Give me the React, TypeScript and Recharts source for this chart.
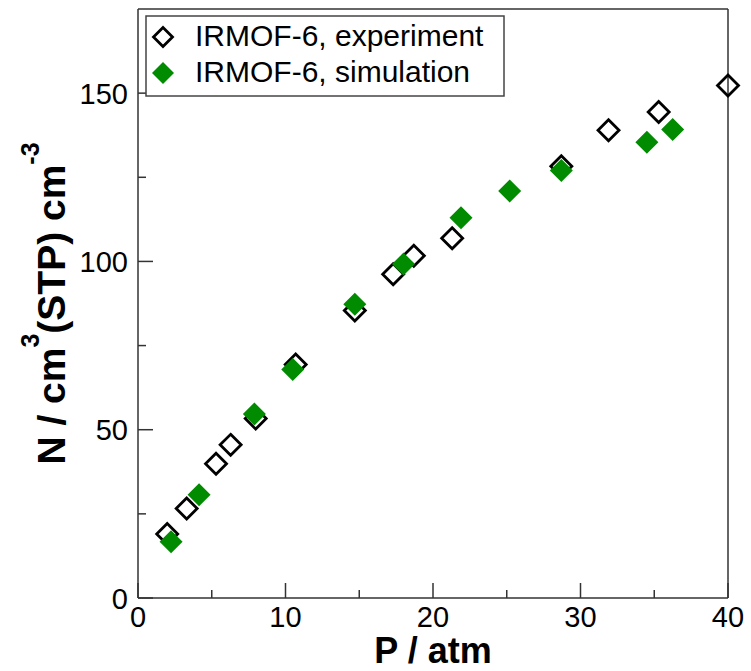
import React from 'react';
import { ScatterChart, Scatter, XAxis, YAxis, Legend } from 'recharts';

// ---- data ----
const expP = [1.98, 3.3, 5.29, 6.28, 7.98, 10.69, 14.7, 17.3, 18.7, 21.3, 28.7, 31.9, 35.3, 40.0];
const expN = [19.0, 26.6, 39.9, 45.5, 53.3, 69.4, 85.4, 96.2, 101.7, 106.9, 128.3, 139.0, 144.4, 152.3];
const simP = [2.24, 4.14, 7.89, 10.49, 14.7, 18.0, 21.9, 25.2, 28.7, 34.5, 36.25];
const simN = [16.7, 30.7, 54.7, 67.9, 87.3, 99.2, 113.0, 120.9, 127.0, 135.4, 139.2];

const xTicks = [0, 5, 10, 15, 20, 25, 30, 35, 40];
const yTicks = [0, 25, 50, 75, 100, 125, 150];
const xDomain = [0, 40];
const yDomain = [0, 175];
const seriesNames = ['IRMOF-6, experiment', 'IRMOF-6, simulation'];

const expData = expP.map((p, i) => ({ x: p, y: expN[i] }));
const simData = simP.map((p, i) => ({ x: p, y: simN[i] }));

// ---- styles ----
const FONT = '"Liberation Sans", Arial, Helvetica, sans-serif';
const AXIS_COLOR = '#333';
const GREEN = '#008b00';
const MAJOR = 15;
const MINOR = 8;
const TICK_FONT = 29;

const isMajorX = (v: number) => v % 10 === 0;
const isMajorY = (v: number) => v % 50 === 0;

const diamondPath = (cx: number, cy: number, r: number) =>
  `M${cx},${cy - r}L${cx + r},${cy}L${cx},${cy + r}L${cx - r},${cy}Z`;

const OpenDiamond = (props: any) => {
  const { cx, cy } = props;
  if (cx == null || cy == null) return null;
  return <path d={diamondPath(cx, cy, 10.5)} fill="none" stroke="#000" strokeWidth={2.8} strokeLinejoin="miter" />;
};
const FilledDiamond = (props: any) => {
  const { cx, cy } = props;
  if (cx == null || cy == null) return null;
  return <path d={diamondPath(cx, cy, 11.5)} fill={GREEN} stroke="none" />;
};

const BottomTick = (props: any) => {
  const { x, y, payload } = props;
  const major = isMajorX(payload.value);
  return (
    <g>
      <line x1={x} x2={x} y1={y} y2={y - (major ? MAJOR : MINOR)} stroke={AXIS_COLOR} strokeWidth={1.5} />
      {major && (
        <text x={x} y={y + 29} textAnchor="middle" fontSize={TICK_FONT} fontFamily={FONT} fill="#000">
          {payload.value}
        </text>
      )}
    </g>
  );
};
const TopTick = (props: any) => {
  const { x, y, payload } = props;
  const major = isMajorX(payload.value);
  return <line x1={x} x2={x} y1={y} y2={y + (major ? MAJOR : MINOR)} stroke={AXIS_COLOR} strokeWidth={1.5} />;
};
const LeftTick = (props: any) => {
  const { x, y, payload } = props;
  const major = isMajorY(payload.value);
  return (
    <g>
      <line x1={x} x2={x + (major ? MAJOR : MINOR)} y1={y} y2={y} stroke={AXIS_COLOR} strokeWidth={1.5} />
      {major && (
        <text x={x - 10} y={y + 10.5} textAnchor="end" fontSize={TICK_FONT} fontFamily={FONT} fill="#000">
          {payload.value}
        </text>
      )}
    </g>
  );
};
const RightTick = (props: any) => {
  const { x, y, payload } = props;
  const major = isMajorY(payload.value);
  return <line x1={x} x2={x - (major ? MAJOR : MINOR)} y1={y} y2={y} stroke={AXIS_COLOR} strokeWidth={1.5} />;
};

const XLabel = (props: any) => {
  const vb = props.viewBox || {};
  const cx = (vb.x ?? 138) + (vb.width ?? 590) / 2;
  const y = (vb.y ?? 598) + 65;
  return (
    <text x={cx} y={y} textAnchor="middle" fontFamily={FONT} fontWeight="bold" fontSize={36} fill="#000">
      P / atm
    </text>
  );
};

const YLabel = (props: any) => {
  const vb = props.viewBox || {};
  const cy = (vb.y ?? 9) + (vb.height ?? 589) / 2;
  const cx = 65;
  return (
    <text
      transform={`translate(${cx},${cy}) rotate(-90)`}
      textAnchor="middle"
      fontFamily={FONT}
      fontWeight="bold"
      fontSize={39}
      fill="#000"
    >
      N / cm
      <tspan fontSize={25} dy={-26}>3</tspan>
      <tspan dy={26}>(STP) cm</tspan>
      <tspan fontSize={25} dy={-26}>-3</tspan>
    </text>
  );
};

const LegendBox = () => (
  <svg width={362} height={84} style={{ display: 'block', overflow: 'visible' }}>
    <rect x={1} y={1} width={358} height={80} fill="#fff" stroke="#444" strokeWidth={1.5} />
    <path d={diamondPath(18, 22, 9.5)} fill="none" stroke="#000" strokeWidth={2.8} />
    <text x={50} y={30.7} fontFamily={FONT} fontSize={30} fill="#000">{seriesNames[0]}</text>
    <path d={diamondPath(18, 58, 11)} fill={GREEN} />
    <text x={50} y={66.7} fontFamily={FONT} fontSize={30} fill="#000">{seriesNames[1]}</text>
  </svg>
);

export default function App() {
  return (
    <div style={{ position: 'absolute', left: 0, top: 0, background: '#fff' }}>
      <ScatterChart width={751} height={671} margin={{ top: 0, right: 0, bottom: 0, left: 0 }}>
        <XAxis
          xAxisId="bottom"
          type="number"
          dataKey="x"
          domain={xDomain}
          ticks={xTicks}
          interval={0}
          orientation="bottom"
          height={73}
          tickSize={0}
          tickMargin={0}
          tickLine={false}
          axisLine={{ stroke: AXIS_COLOR, strokeWidth: 1.5 }}
          tick={<BottomTick />}
          label={<XLabel />}
        />
        <XAxis
          xAxisId="top"
          type="number"
          dataKey="x"
          domain={xDomain}
          ticks={xTicks}
          interval={0}
          orientation="top"
          height={9}
          tickSize={0}
          tickMargin={0}
          tickLine={false}
          axisLine={{ stroke: AXIS_COLOR, strokeWidth: 1.5 }}
          tick={<TopTick />}
        />
        <YAxis
          yAxisId="left"
          type="number"
          dataKey="y"
          domain={yDomain}
          ticks={yTicks}
          interval={0}
          orientation="left"
          width={138}
          tickSize={0}
          tickMargin={0}
          tickLine={false}
          axisLine={{ stroke: AXIS_COLOR, strokeWidth: 1.5 }}
          tick={<LeftTick />}
          label={<YLabel />}
        />
        <YAxis
          yAxisId="right"
          type="number"
          dataKey="y"
          domain={yDomain}
          ticks={yTicks}
          interval={0}
          orientation="right"
          width={23}
          tickSize={0}
          tickMargin={0}
          tickLine={false}
          axisLine={{ stroke: AXIS_COLOR, strokeWidth: 1.5 }}
          tick={<RightTick />}
        />
        <Legend
          layout="vertical"
          align="center"
          verticalAlign="middle"
          content={<LegendBox />}
          wrapperStyle={{ left: 145, top: 15, width: 362, height: 84 }}
        />
        <Scatter
          name={seriesNames[0]}
          data={expData}
          xAxisId="bottom"
          yAxisId="left"
          shape={<OpenDiamond />}
          isAnimationActive={false}
        />
        <Scatter
          name={seriesNames[1]}
          data={simData}
          xAxisId="bottom"
          yAxisId="left"
          shape={<FilledDiamond />}
          isAnimationActive={false}
        />
      </ScatterChart>
    </div>
  );
}
